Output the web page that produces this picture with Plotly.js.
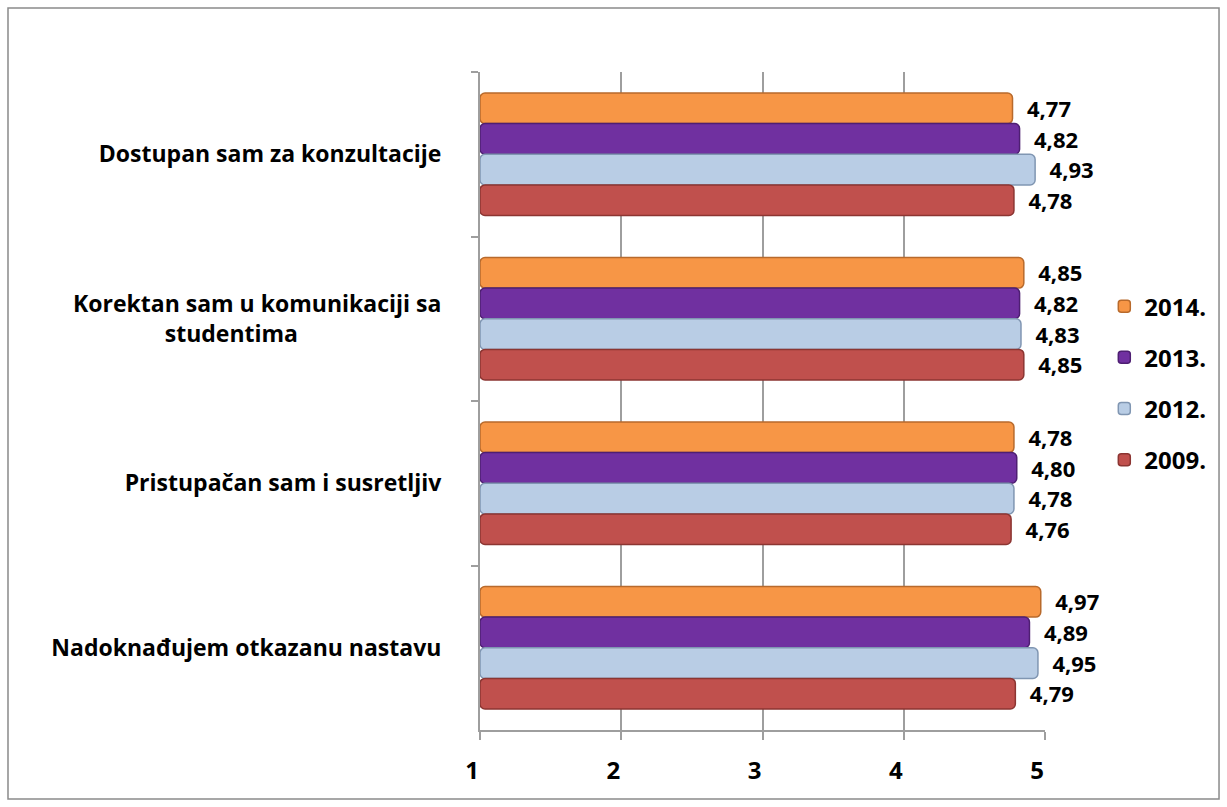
<!DOCTYPE html>
<html>
<head>
<meta charset="utf-8">
<script src="https://cdn.plot.ly/plotly-3.0.1.min.js"></script>
<style>html,body{margin:0;padding:0;background:#fff;}#chart{width:1227px;height:807px;}</style>
</head>
<body>
<div id="chart"></div>
<script>
const NB = "\u00A0";
const categories = [
  "Dostupan sam za konzultacije",
  "Korektan sam u komunikaciji sa<br>studentima" + NB.repeat(24),
  "Pristupačan sam i susretljiv",
  "Nadoknađujem otkazanu nastavu"
];
const seriesNames = ["2014.", "2013.", "2012.", "2009."];
const values2014 = [4.77, 4.85, 4.78, 4.97];
const values2013 = [4.82, 4.82, 4.80, 4.89];
const values2012 = [4.93, 4.83, 4.78, 4.95];
const values2009 = [4.78, 4.85, 4.76, 4.79];
const xTicks = [1, 2, 3, 4, 5];

const seriesValues = [values2014, values2013, values2012, values2009];
const fills = ["#F79646", "#7030A0", "#B9CDE5", "#C0504D"];
const edges = ["#B86A2C", "#4E1F72", "#8096B2", "#8C3532"];

const FONT = "'Open Sans', Lato, sans-serif";

const traces = seriesNames.map((name, i) => ({
  type: "bar",
  orientation: "h",
  name: name,
  y: categories,
  x: seriesValues[i].map(v => v - 1),
  base: 1,
  customdata: seriesValues[i],
  marker: { color: fills[i], line: { color: edges[i], width: 1.5 }, cornerradius: 5 },
  texttemplate: NB + NB + "%{customdata:.2f}",
  textposition: "outside",
  cliponaxis: false,
  textfont: { family: FONT, size: 23, color: "#000", weight: 700 },
  legendgroup: "g" + i,
  hoverinfo: "skip"
}));

const layout = {
  width: 1227,
  height: 807,
  margin: { l: 480, r: 182, t: 72, b: 77 },
  paper_bgcolor: "#fff",
  plot_bgcolor: "#fff",
  separators: ",.",
  barmode: "group",
  bargap: 0.255,
  bargroupgap: 0,
  showlegend: true,
  legend: {
    xref: "container", yref: "container",
    x: 0.9, y: 0.648, xanchor: "left", yanchor: "top",
    font: { family: FONT, size: 24, color: "#000", weight: 700 },
    traceorder: "grouped",
    tracegroupgap: 17,
    itemwidth: 30,
    bgcolor: "rgba(0,0,0,0)"
  },
  xaxis: {
    range: [1, 5],
    tickvals: xTicks,
    ticktext: xTicks.map(String),
    showgrid: true,
    gridcolor: "#9e9e9e",
    gridwidth: 2,
    zeroline: false,
    showline: true,
    linecolor: "#9e9e9e",
    linewidth: 2,
    ticks: "outside",
    ticklen: 8,
    tickcolor: "#9e9e9e",
    tickwidth: 2,
    ticklabelstandoff: 10,
    ticklabelshift: -8,
    tickfont: { family: FONT, size: 24, color: "#000", weight: 700 },
    fixedrange: true
  },
  yaxis: {
    type: "category",
    autorange: "reversed",
    showgrid: false,
    showline: true,
    linecolor: "#9e9e9e",
    linewidth: 2,
    ticks: "outside",
    tickson: "boundaries",
    ticklen: 7,
    tickcolor: "#9e9e9e",
    tickwidth: 2,
    ticklabelstandoff: 32,
    tickfont: { family: FONT, size: 23, color: "#000", weight: 700 },
    fixedrange: true
  },
  shapes: [
    { type: "rect", xref: "paper", yref: "paper", x0: -0.8354, x1: 1.308, y0: -0.1049, y1: 1.0973,
      line: { color: "#8a8a8a", width: 1.5 }, fillcolor: "rgba(0,0,0,0)", layer: "below" }
  ]
};

Plotly.newPlot("chart", traces, layout, { displayModeBar: false, staticPlot: true });
</script>
</body>
</html>
